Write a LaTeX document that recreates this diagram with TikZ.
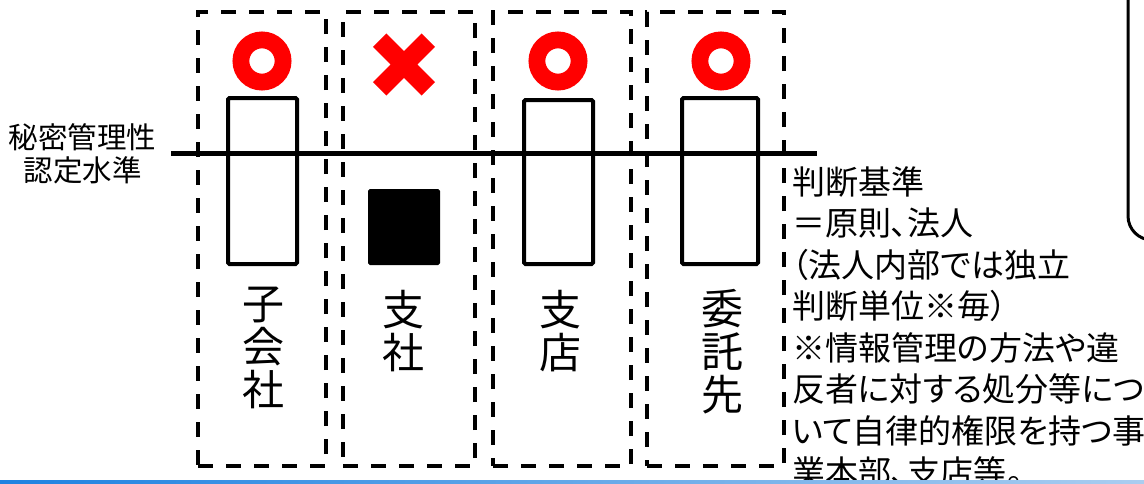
\documentclass[tikz,border=0pt]{standalone}
\usepackage{fontspec}
\newfontfamily\jp{Noto Sans CJK JP}
\newfontfamily\jpp[RawFeature=+palt]{Noto Sans CJK JP}
\definecolor{okred}{RGB}{255,0,0}
\definecolor{blueL}{RGB}{30,130,225}
\definecolor{blueR}{RGB}{170,205,240}
\begin{document}
\begin{tikzpicture}[x=1pt,y=-1pt,
  dbox/.style={draw, line width=4pt, dash pattern=on 15pt off 13pt, inner sep=0pt, minimum height=454pt},
  wrect/.style={draw, fill=white, line width=4pt, rounded corners=1.5pt, inner sep=0pt},
  ring/.style={circle, draw=okred, line width=16.8pt, minimum size=42.2pt, inner sep=0pt},
  lefttext/.style={font=\jp\fontsize{29.5}{33}\selectfont, anchor=base, inner sep=0pt},
  vchar/.style={font=\jp\fontsize{42}{43}\selectfont, anchor=base, inner sep=0pt},
  rtext/.style={font=\jpp\fontsize{33}{41.5}\selectfont, anchor=base west, inner sep=0pt}]
\useasboundingbox (0,0) rectangle (1144,483);
\clip (0,0) rectangle (1144,483);

% dashed column boxes
\node[dbox, minimum width=128pt] (b1) at (262,239) {};
\node[dbox, minimum width=132pt] (b2) at (409,239) {};
\node[dbox, minimum width=138pt] (b3) at (562,239) {};
\node[dbox, minimum width=137pt] (b4) at (715.5,239) {};

% marks
\node[ring] (o1) at (262,61) {};
\node[ring] (o3) at (558,61) {};
\node[ring] (o4) at (721,61) {};
\coordinate (xc) at (404,64.5);
\draw[okred, line width=19pt] ([shift={(-24.3,-24.3)}]xc) -- ([shift={(24.3,24.3)}]xc)
  ([shift={(-24.3,24.3)}]xc) -- ([shift={(24.3,-24.3)}]xc);

% bars
\node[wrect, minimum width=69pt, minimum height=166pt] (r1) at (262.5,181) {};
\node[wrect, minimum width=69pt, minimum height=164pt] (r3) at (558.5,182) {};
\node[wrect, minimum width=76pt, minimum height=166pt] (r4) at (720,181) {};
\node[draw, fill=black, line width=1pt, rounded corners=1.5pt, inner sep=0pt, minimum width=71pt, minimum height=75pt] (sq) at (404,227) {};

% threshold line
\coordinate (hl) at (171,153);
\coordinate (hr) at (817,153);
\draw[line width=5pt] (hl) -- (hr);

% left label
\node[lefttext] (lt1) at (82.5,148) {秘密管理性};
\node[lefttext] (lt2) at (82.5,181) {認定水準};

% vertical labels
\node[vchar] (v11) at (263,319) {子};
\node[vchar] (v12) at (263,362) {会};
\node[vchar] (v13) at (263,405) {社};
\node[vchar] (v21) at (403,325) {支};
\node[vchar] (v22) at (403,368) {社};
\node[vchar] (v31) at (560,325) {支};
\node[vchar] (v32) at (560,368) {店};
\node[vchar] (v41) at (722,324) {委};
\node[vchar] (v42) at (722,367) {託};
\node[vchar] (v43) at (722,410) {先};

% right explanation
\node[rtext] (t1) at (792,194) {判断基準};
\node[rtext] (t2) at (792,235.5) {＝原則、法人};
\node[rtext] (t3) at (792,277) {（法人内部では独立};
\node[rtext] (t4) at (792,318.5) {判断単位※毎）};
\node[rtext] (t5) at (792,360) {※情報管理の方法や違};
\node[rtext] (t6) at (792,401.5) {反者に対する処分等につ};
\node[rtext] (t7) at (792,443) {いて自律的権限を持つ事};
\node[rtext] (t8) at (792,484.5) {業本部、支店等。};

% partial rounded box at right edge
\draw[line width=3pt, rounded corners=24pt] (1128,-40) rectangle (1200,240);

% bottom blue rule
\shade[left color=blueL, right color=blueR] (0,480.5) rectangle (1144,484);
\end{tikzpicture}
\end{document}
